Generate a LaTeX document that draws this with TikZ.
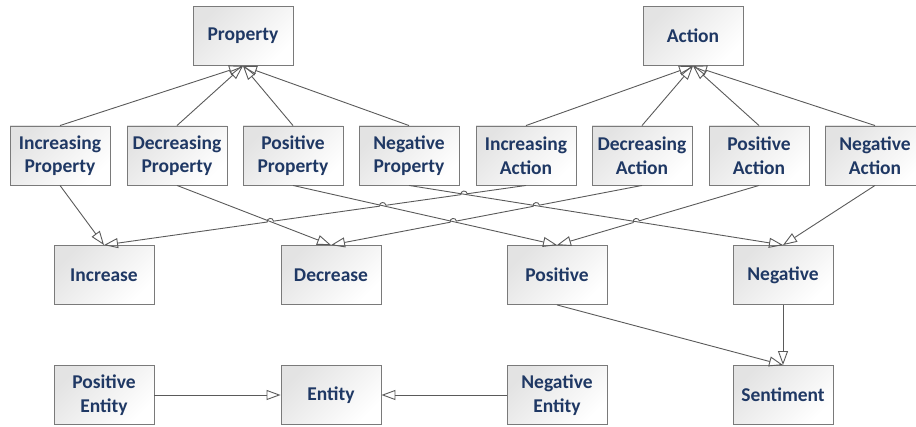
\documentclass[tikz,border=0pt]{standalone}
\usepackage{fontspec}
\setmainfont{Carlito}
\usetikzlibrary{arrows.meta,calc}
\definecolor{txt}{HTML}{1F3864}
\definecolor{bord}{HTML}{7A7A7A}
\definecolor{lne}{HTML}{5A5A5A}
\begin{document}
\begin{tikzpicture}[x=1pt,y=-1pt,
  box/.style={draw=bord, line width=0.9pt, top color=black!11, bottom color=white, shading angle=45,
    minimum width=100pt, minimum height=59pt, inner sep=0pt, align=center, text=txt,
    font=\fontsize{19.5}{23.5}\selectfont\bfseries},
  edge/.style={draw=lne, line width=0.9pt, -{Triangle[open, length=14pt, width=10pt]}},
  hop/.style={bend right=90, looseness=1.7}]
\useasboundingbox (0,0) rectangle (916,427);
\node[box] (prop) at (243,36) {Property};
\node[box] (act) at (693,36) {Action};
\node[box] (ip) at (60,155.5) {Increasing\\Property};
\node[box] (dp) at (177,155.5) {Decreasing\\Property};
\node[box] (pp) at (293,155.5) {Positive\\Property};
\node[box] (np) at (409,155.5) {Negative\\Property};
\node[box] (ia) at (526,155.5) {Increasing\\Action};
\node[box] (da) at (642,155.5) {Decreasing\\Action};
\node[box] (pa) at (759,155.5) {Positive\\Action};
\node[box] (na) at (875,155.5) {Negative\\Action};
\node[box] (inc) at (104,275) {Increase};
\node[box] (dec) at (331,275) {Decrease};
\node[box] (pos) at (557,275) {Positive};
\node[box] (neg) at (783,275) {Negative};
\node[box] (pe) at (104,395) {Positive\\Entity};
\node[box] (ent) at (331,395) {Entity};
\node[box] (ne) at (557,395) {Negative\\Entity};
\node[box] (sen) at (783,395) {Sentiment};
% generalisations up
\foreach \c in {ip,dp,pp,np} \draw[edge] (\c.north) -- (prop.south);
\foreach \c in {ia,da,pa,na} \draw[edge] (\c.north) -- (act.south);
% property lines
\draw[edge] (ip.south) -- (inc.north);
\draw[edge] (dp.south) -- (dec.north);
\draw[edge] (pp.south) -- (pos.north);
\draw[edge] (np.south) -- (neg.north);
\draw[edge] (na.south) -- (neg.north);
% crossings
\coordinate (a1) at (intersection of ia.south--inc.north and np.south--neg.north);
\coordinate (a2) at (intersection of ia.south--inc.north and pp.south--pos.north);
\coordinate (a3) at (intersection of ia.south--inc.north and dp.south--dec.north);
\coordinate (b1) at (intersection of da.south--dec.north and np.south--neg.north);
\coordinate (b2) at (intersection of da.south--dec.north and pp.south--pos.north);
\coordinate (c1) at (intersection of pa.south--pos.north and np.south--neg.north);
\draw[edge] (ia.south) -- ($(a1)!3.2pt!(ia.south)$) to[hop] ($(a1)!3.2pt!(inc.north)$)
  -- ($(a2)!3.2pt!(ia.south)$) to[hop] ($(a2)!3.2pt!(inc.north)$)
  -- ($(a3)!3.2pt!(ia.south)$) to[hop] ($(a3)!3.2pt!(inc.north)$) -- (inc.north);
\draw[edge] (da.south) -- ($(b1)!3.2pt!(da.south)$) to[hop] ($(b1)!3.2pt!(dec.north)$)
  -- ($(b2)!3.2pt!(da.south)$) to[hop] ($(b2)!3.2pt!(dec.north)$) -- (dec.north);
\draw[edge] (pa.south) -- ($(c1)!3.2pt!(pa.south)$) to[hop] ($(c1)!3.2pt!(pos.north)$) -- (pos.north);
% sentiment and entity
\draw[edge] (pos.south) -- (sen.north);
\draw[edge] (neg.south) -- (sen.north);
\draw[edge] (pe.east) -- (ent.west);
\draw[edge] (ne.west) -- (ent.east);
\end{tikzpicture}
\end{document}
